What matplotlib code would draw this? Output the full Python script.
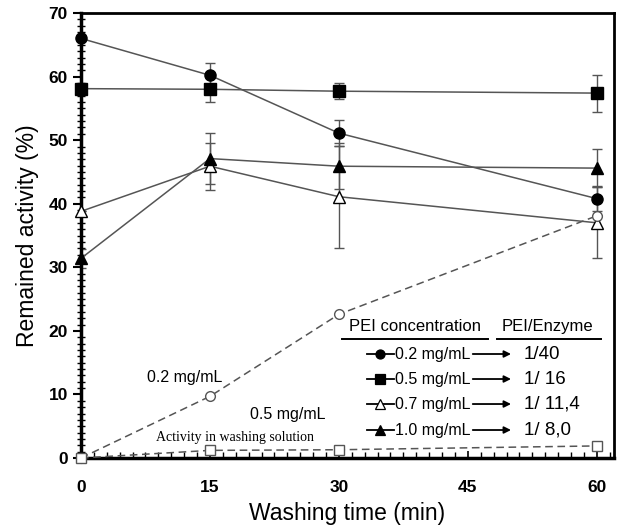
import matplotlib
matplotlib.use("Agg")
import matplotlib.pyplot as plt
from matplotlib.ticker import MultipleLocator

plt.rcParams["font.family"] = ["Liberation Sans", "DejaVu Sans"]

# washing time (min)
time = [0, 15, 30, 60]

# remained activity (%) per PEI concentration, with error bars
act_02 = [66.0, 60.2, 51.1, 40.8]
err_02 = [0.0, 2.0, 2.0, 2.0]
act_05 = [58.1, 58.0, 57.7, 57.4]
err_05 = [0.0, 2.0, 1.3, 2.9]
act_07 = [38.8, 45.9, 41.1, 37.0]
err_07 = [0.0, 3.7, 8.0, 5.6]
act_10 = [31.4, 47.1, 45.9, 45.6]
err_10 = [1.5, 4.0, 3.6, 3.0]

# activity found in the washing solution
wash_02 = [0.0, 9.7, 22.6, 38.1]
wash_05 = [0.0, 1.2, 1.3, 1.9]

conc_labels = ["0.2 mg/mL", "0.5 mg/mL", "0.7 mg/mL", "1.0 mg/mL"]
ratio_labels = ["1/40", "1/ 16", "1/ 11,4", "1/ 8,0"]

fig = plt.figure(figsize=(6.17, 5.28), dpi=100)
ax = fig.add_axes([81 / 617, 1 - 458 / 528, 533 / 617, 445 / 528])

line_col = "#555555"
series = [
    (act_02, err_02, "o", "black"),
    (act_05, err_05, "s", "black"),
    (act_07, err_07, "^", "white"),
    (act_10, err_10, "^", "black"),
]
for vals, errs, mk, fc in series:
    ax.errorbar(time, vals, yerr=errs, fmt="none", ecolor=line_col,
                elinewidth=1.0, capsize=3.5, capthick=1.0, zorder=2)
    ax.plot(time, vals, color=line_col, lw=1.1, marker=mk, ms=8 if mk != "^" else 8.5,
            mfc=fc, mec="black", mew=1.0, zorder=3, clip_on=False)

ax.plot(time, wash_02, color=line_col, lw=1.1, ls=(0, (5, 3)), marker="o",
        ms=7, mfc="white", mec=line_col, zorder=3, clip_on=False)
ax.plot(time, wash_05, color=line_col, lw=1.1, ls=(0, (5, 3)), marker="s",
        ms=7, mfc="white", mec=line_col, zorder=4, clip_on=False)

ax.text(12.1, 12.7, "0.2 mg/mL", fontsize=11.5, ha="center", va="center")
ax.text(24.0, 6.8, "0.5 mg/mL", fontsize=11.5, ha="center", va="center")
ax.text(17.9, 3.3, "Activity in washing solution", fontsize=10,
        family="Liberation Serif", ha="center", va="center")

ax.set_xlim(0, 62)
ax.set_ylim(0, 70)
ax.set_xticks([0, 15, 30, 45, 60])
ax.set_yticks(range(0, 71, 10))
ax.xaxis.set_minor_locator(MultipleLocator(1.5))
ax.yaxis.set_minor_locator(MultipleLocator(1))
ax.tick_params(axis="y", which="major", direction="out", length=6, width=1.5, labelsize=12.5)
ax.tick_params(axis="y", which="minor", direction="inout", length=6, width=1.0)
ax.tick_params(axis="x", which="major", direction="in", length=5, width=1.2, labelsize=12.5, pad=16)
ax.tick_params(axis="x", which="minor", direction="in", length=4, width=1.0)
for lab in ax.get_xticklabels() + ax.get_yticklabels():
    lab.set_fontweight("bold")
for side in ["left", "bottom"]:
    ax.spines[side].set_linewidth(2.5)
for side in ["top", "right"]:
    ax.spines[side].set_linewidth(2.0)

ax.set_xlabel("Washing time (min)", fontsize=16.5, labelpad=5)
ax.set_ylabel("Remained activity (%)", fontsize=16.5, labelpad=7)

# legend table
tr = ax.transAxes
ax.text(0.6266, 0.295, "PEI concentration", transform=tr, fontsize=12, ha="center", va="center")
ax.text(0.876, 0.295, "PEI/Enzyme", transform=tr, fontsize=12, ha="center", va="center")
ax.plot([0.4897, 0.7636], [0.2667, 0.2667], transform=tr, color="black", lw=1.4)
ax.plot([0.7805, 0.9756], [0.2667, 0.2667], transform=tr, color="black", lw=1.4)
row_y = [0.2337, 0.1775, 0.1213, 0.0629]
for (vals, errs, mk, fc), lab, rat, yy in zip(series, conc_labels, ratio_labels, row_y):
    ax.plot([0.5366, 0.5872], [yy, yy], transform=tr, color="black", lw=1.3)
    ax.plot([0.561], [yy], transform=tr, marker=mk, ms=6.5, mfc=fc, mec="black", mew=0.9)
    ax.text(0.5885, yy, lab, transform=tr, fontsize=11.5, ha="left", va="center")
    ax.annotate("", xy=(0.812, yy), xytext=(0.7298, yy), xycoords=tr,
                arrowprops=dict(arrowstyle="-|>", color="black", lw=1.3, mutation_scale=10))
    ax.text(0.8311, yy, rat, transform=tr, fontsize=13.5, ha="left", va="center")

fig.savefig("out.png", dpi=100)
